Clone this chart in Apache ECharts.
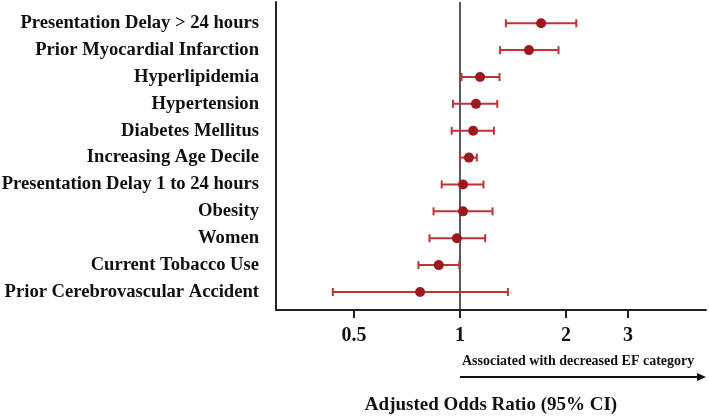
<!DOCTYPE html>
<html>
<head>
<meta charset="utf-8">
<script src="https://cdn.jsdelivr.net/npm/echarts@6/dist/echarts.min.js"></script>
<style>html,body{margin:0;padding:0;background:#fff;}#c{width:709px;height:418px;}</style>
</head>
<body>
<div id="c"></div>
<script>
// top to bottom
var categories = [
  'Presentation Delay > 24 hours',
  'Prior Myocardial Infarction',
  'Hyperlipidemia',
  'Hypertension',
  'Diabetes Mellitus',
  'Increasing Age Decile',
  'Presentation Delay 1 to 24 hours',
  'Obesity',
  'Women',
  'Current Tobacco Use',
  'Prior Cerebrovascular Accident'
];
var oddsRatio = [1.70, 1.57, 1.14, 1.11, 1.09, 1.06, 1.02, 1.02, 0.98, 0.87, 0.77];
var ciLower   = [1.35, 1.30, 1.01, 0.955, 0.947, 1.00, 0.887, 0.841, 0.819, 0.762, 0.435];
var ciUpper   = [2.14, 1.905, 1.295, 1.276, 1.248, 1.116, 1.166, 1.237, 1.179, 0.995, 1.368];
var xTicks = [0.5, 1, 2, 3];
var arrowText = 'Associated with decreased EF category';
var xTitle = 'Adjusted Odds Ratio (95% CI)';

var n = categories.length;
var rowIdx = categories.map(function(_, i){ return n - 1 - i; });
var pointData = oddsRatio.map(function(v, i){ return [v, rowIdx[i]]; });
var ciData = ciLower.map(function(v, i){ return [v, ciUpper[i], rowIdx[i]]; });

var FONT = '"Liberation Serif", "Times New Roman", serif';
var chart = echarts.init(document.getElementById('c'));
chart.setOption({
  animation: false,
  grid: { left: 276, right: 3, top: 2, bottom: 108, containLabel: false, outerBoundsMode: 'none' },
  xAxis: {
    type: 'log', logBase: 10, min: 0.3, max: 5,
    splitLine: { show: false },
    axisLine: { show: true, onZero: false, lineStyle: { color: '#222', width: 2 } },
    axisTick: { show: true, length: 8, lineStyle: { color: '#222', width: 2 }, customValues: xTicks },
    axisLabel: { customValues: xTicks, color: '#111', fontFamily: FONT, fontWeight: 'bold', fontSize: 20, margin: 16,
      formatter: function(v){ return String(v); } },
    minorTick: { show: false },
    name: xTitle, nameLocation: 'middle', nameGap: 86,
    nameTextStyle: { color: '#111', fontFamily: FONT, fontWeight: 'bold', fontSize: 19 }
  },
  yAxis: {
    type: 'value', min: -0.67, max: 10.79,
    splitLine: { show: false },
    axisLine: { show: true, onZero: false, lineStyle: { color: '#222', width: 2 } },
    axisTick: { show: false },
    axisLabel: { customValues: rowIdx, color: '#111', fontFamily: FONT, fontWeight: 'bold', fontSize: 18.6, margin: 17,
      formatter: function(v){ return categories[n - 1 - Math.round(v)]; } }
  },
  series: [
    {
      type: 'custom',
      data: ciData,
      z: 2,
      renderItem: function(params, api){
        var lo = api.coord([api.value(0), api.value(2)]);
        var hi = api.coord([api.value(1), api.value(2)]);
        var h = 4;
        var st = { stroke: '#bd3336', lineWidth: 2 };
        return { type: 'group', children: [
          { type: 'line', shape: { x1: lo[0], y1: lo[1], x2: hi[0], y2: hi[1] }, style: st },
          { type: 'line', shape: { x1: lo[0], y1: lo[1]-h, x2: lo[0], y2: lo[1]+h }, style: st },
          { type: 'line', shape: { x1: hi[0], y1: hi[1]-h, x2: hi[0], y2: hi[1]+h }, style: st }
        ]};
      }
    },
    {
      type: 'scatter',
      data: pointData,
      symbol: 'circle',
      symbolSize: 10,
      z: 3,
      itemStyle: { color: '#9c1a1e', opacity: 1 },
      markLine: {
        silent: true, symbol: 'none', z: 1,
        label: { show: false },
        lineStyle: { color: '#222', width: 1.5, type: 'solid' },
        data: [{ xAxis: 1 }]
      }
    }
  ]
});

var x1 = chart.convertToPixel({ xAxisIndex: 0 }, 1);
var xEnd = chart.convertToPixel({ xAxisIndex: 0 }, 5);
chart.setOption({
  graphic: [
    { type: 'text', left: x1 + 2, top: 354,
      style: { text: arrowText, fill: '#111', font: 'bold 14px ' + FONT } },
    { type: 'line', shape: { x1: x1, y1: 377, x2: xEnd - 7, y2: 377 }, style: { stroke: '#111', lineWidth: 2 } },
    { type: 'polygon', shape: { points: [[xEnd, 377], [xEnd - 9, 373], [xEnd - 9, 381]] }, style: { fill: '#111' } }
  ]
});
</script>
</body>
</html>
